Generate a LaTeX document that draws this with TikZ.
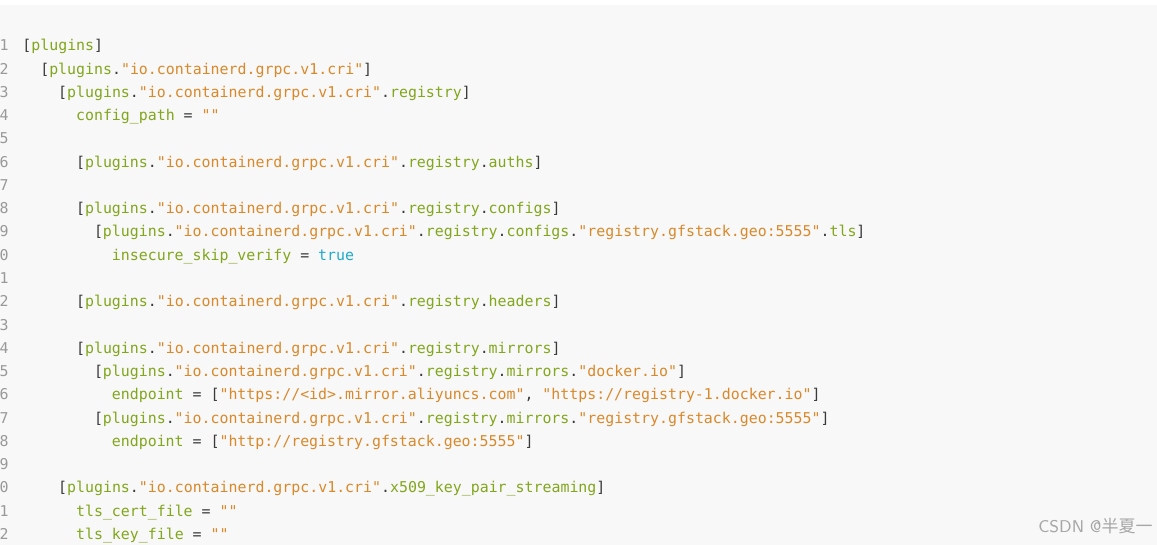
\documentclass[tikz,border=0pt]{standalone}
\usepackage{fontspec}
\setmonofont{DejaVu Sans Mono}
\newfontfamily\cjk{Noto Sans CJK SC}
\definecolor{kg}{HTML}{82A61C}
\definecolor{so}{HTML}{D9892A}
\definecolor{pu}{HTML}{3A3A3A}
\definecolor{tc}{HTML}{22AACC}
\definecolor{bg}{HTML}{F8F8F9}
\newcommand{\K}[1]{\textcolor{kg}{#1}}
\newcommand{\Ss}[1]{\textcolor{so}{#1}}
\newcommand{\Pp}[1]{\textcolor{pu}{#1}}
\newcommand{\Q}{\Ss{"io.containerd.grpc.v1.cri"}}
\begin{document}
\begin{tikzpicture}[x=0.5pt,y=-0.5pt,
 code/.style={anchor=base west,inner sep=0pt,font=\fontsize{7.45}{8}\ttfamily,text=pu},
 ln/.style={anchor=base,inner sep=0pt,font=\fontsize{7.45}{8}\ttfamily,text=gray!80}]
\useasboundingbox (0,0) rectangle (1157,545);
\fill[bg] (0,5) rectangle (1157,545);
\foreach \n/\d in {1/1,2/2,3/3,4/4,5/5,6/6,7/7,8/8,9/9,10/0,11/1,12/2,13/3,14/4,15/5,16/6,17/7,18/8,19/9,20/0,21/1,22/2}
  \node[ln] (n\n) at (4,{51+(\n-1)*23.25}) {\d};
\newcommand{\cl}[3]{\node[code] (l#1) at ({22+#2*8.95},{51+(#1-1)*23.25}) {#3};}
\cl{1}{0}{[\K{plugins}]}
\cl{2}{2}{[\K{plugins}.\Q]}
\cl{3}{4}{[\K{plugins}.\Q.\K{registry}]}
\cl{4}{6}{\K{config\_path} = \Ss{""}}
\cl{6}{6}{[\K{plugins}.\Q.\K{registry}.\K{auths}]}
\cl{8}{6}{[\K{plugins}.\Q.\K{registry}.\K{configs}]}
\cl{9}{8}{[\K{plugins}.\Q.\K{registry}.\K{configs}.\Ss{"registry.gfstack.geo:5555"}.\K{tls}]}
\cl{10}{10}{\K{insecure\_skip\_verify} = \textcolor{tc}{true}}
\cl{12}{6}{[\K{plugins}.\Q.\K{registry}.\K{headers}]}
\cl{14}{6}{[\K{plugins}.\Q.\K{registry}.\K{mirrors}]}
\cl{15}{8}{[\K{plugins}.\Q.\K{registry}.\K{mirrors}.\Ss{"docker.io"}]}
\cl{16}{10}{\K{endpoint} = [\Ss{"https://<id>.mirror.aliyuncs.com"}, \Ss{"https://registry-1.docker.io"}]}
\cl{17}{8}{[\K{plugins}.\Q.\K{registry}.\K{mirrors}.\Ss{"registry.gfstack.geo:5555"}]}
\cl{18}{10}{\K{endpoint} = [\Ss{"http://registry.gfstack.geo:5555"}]}
\cl{20}{4}{[\K{plugins}.\Q.\K{x509\_key\_pair\_streaming}]}
\cl{21}{6}{\K{tls\_cert\_file} = \Ss{""}}
\cl{22}{6}{\K{tls\_key\_file} = \Ss{""}}
\node[anchor=base east,inner sep=0pt,text=gray!70,font=\fontsize{8.5}{9}\selectfont\sffamily] (wm) at (1153,532) {CSDN @{\cjk 半夏一}};
\end{tikzpicture}
\end{document}
